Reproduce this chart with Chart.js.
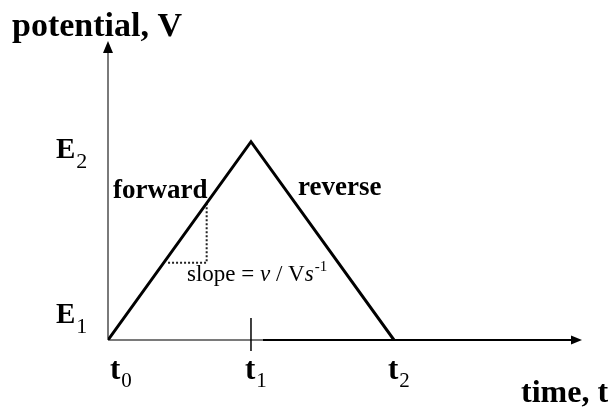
<!DOCTYPE html>
<html>
<head>
<meta charset="utf-8">
<script src="https://cdn.jsdelivr.net/npm/chart.js@4"></script>
<style>
  html, body { margin: 0; padding: 0; background: #fff; }
  canvas { display: block; }
</style>
</head>
<body>
<canvas id="chart" width="612" height="407"></canvas>
<script>
// triangle sweep: time vs potential
const timeLabels = ["0", "1", "2"];        // subscripts of t
const times = [0, 1, 2];
const potentialLabels = ["1", "2"];        // subscripts of E
const potentialLevels = [0, 1];
const potentials = [0, 1, 0];

// dotted slope triangle under the forward branch
const slopeX = [0.42, 0.69, 0.69];
const slopeY = [0.39, 0.39, 0.69];

const xMax = 3.315;
const yMax = 1.508;

const serif = '"Liberation Serif", "Times New Roman", serif';

function arrow(ctx, x, y, dir) {
  ctx.beginPath();
  if (dir === "up") {
    ctx.moveTo(x, y);
    ctx.lineTo(x - 5, y + 12);
    ctx.lineTo(x + 5, y + 12);
  } else {
    ctx.moveTo(x, y);
    ctx.lineTo(x - 11, y - 4.5);
    ctx.lineTo(x - 11, y + 4.5);
  }
  ctx.closePath();
  ctx.fill();
}

function subLabel(ctx, main, sub, x, y, size, subSize, drop) {
  ctx.font = "bold " + size + "px " + serif;
  ctx.fillText(main, x, y);
  const w = ctx.measureText(main).width;
  ctx.font = subSize + "px " + serif;
  ctx.fillText(sub, x + w + 1, y + drop);
}

const axesPlugin = {
  id: "axes",
  beforeDatasetsDraw(chart) {
    const { ctx, chartArea, scales } = chart;
    const x0 = scales.x.getPixelForValue(0);
    const y0 = scales.y.getPixelForValue(0);
    ctx.save();
    ctx.lineWidth = 2;
    // y axis
    ctx.strokeStyle = "#7a7a7a";
    ctx.beginPath();
    ctx.moveTo(x0, y0);
    ctx.lineTo(x0, chartArea.top + 10);
    ctx.stroke();
    // x axis
    ctx.beginPath();
    ctx.moveTo(x0, y0);
    ctx.lineTo(263, y0);
    ctx.stroke();
    ctx.strokeStyle = "#000";
    ctx.beginPath();
    ctx.moveTo(263, y0);
    ctx.lineTo(chartArea.right - 8, y0);
    ctx.stroke();
    ctx.fillStyle = "#000";
    arrow(ctx, x0, chartArea.top, "up");
    arrow(ctx, chartArea.right, y0, "right");
    // tick at t1
    const x1 = scales.x.getPixelForValue(times[1]);
    ctx.lineWidth = 1.5;
    ctx.beginPath();
    ctx.moveTo(x1, y0 - 22);
    ctx.lineTo(x1, y0 + 11);
    ctx.stroke();
    ctx.restore();
  },
  afterDraw(chart) {
    const { ctx, chartArea, scales } = chart;
    const y0 = scales.y.getPixelForValue(0);
    ctx.save();
    ctx.fillStyle = "#000";
    ctx.textBaseline = "alphabetic";
    ctx.textAlign = "left";

    times.forEach((t, i) => {
      const px = Math.max(scales.x.getPixelForValue(t) - 6, chartArea.left + 2);
      subLabel(ctx, "t", timeLabels[i], px, y0 + 39, 31, 21, 8);
    });
    potentialLevels.forEach((v, i) => {
      const py = scales.y.getPixelForValue(v) + (i === 0 ? -17 : 16);
      subLabel(ctx, "E", potentialLabels[i], 56, py, 29, 22, 10);
    });

    ctx.font = "bold 34px " + serif;
    ctx.fillText("potential, V", 12, 36);
    ctx.font = "bold 32px " + serif;
    ctx.fillText("time, t", 521, 402);
    ctx.font = "bold 27px " + serif;
    ctx.fillText("forward", 113, 198);
    ctx.fillText("reverse", 298, 195);

    // slope = ν / Vs-1
    let x = 187;
    const yb = 281;
    const parts = [
      ["", "slope = "],
      ["italic ", "\u03bd"],
      ["", " / V"],
      ["italic ", "s"]
    ];
    parts.forEach(([style, txt]) => {
      ctx.font = style + "23px " + serif;
      ctx.fillText(txt, x, yb);
      x += ctx.measureText(txt).width;
    });
    ctx.font = "15px " + serif;
    ctx.fillText("-1", x + 1, yb - 10);
    ctx.restore();
  }
};

new Chart(document.getElementById("chart"), {
  type: "line",
  data: {
    datasets: [
      {
        data: times.map((t, i) => ({ x: t, y: potentials[i] })),
        borderColor: "#000",
        borderWidth: 3,
        pointRadius: 0,
        tension: 0
      },
      {
        data: slopeX.map((v, i) => ({ x: v, y: slopeY[i] })),
        borderColor: "#222",
        borderWidth: 2,
        borderDash: [2, 2],
        pointRadius: 0,
        tension: 0
      }
    ]
  },
  options: {
    responsive: false,
    animation: false,
    layout: { padding: { left: 108, right: 30, top: 41, bottom: 67 } },
    plugins: { legend: { display: false }, tooltip: { enabled: false } },
    scales: {
      x: { type: "linear", display: false, min: 0, max: xMax },
      y: { display: false, min: 0, max: yMax }
    }
  },
  plugins: [axesPlugin]
});
</script>
</body>
</html>
